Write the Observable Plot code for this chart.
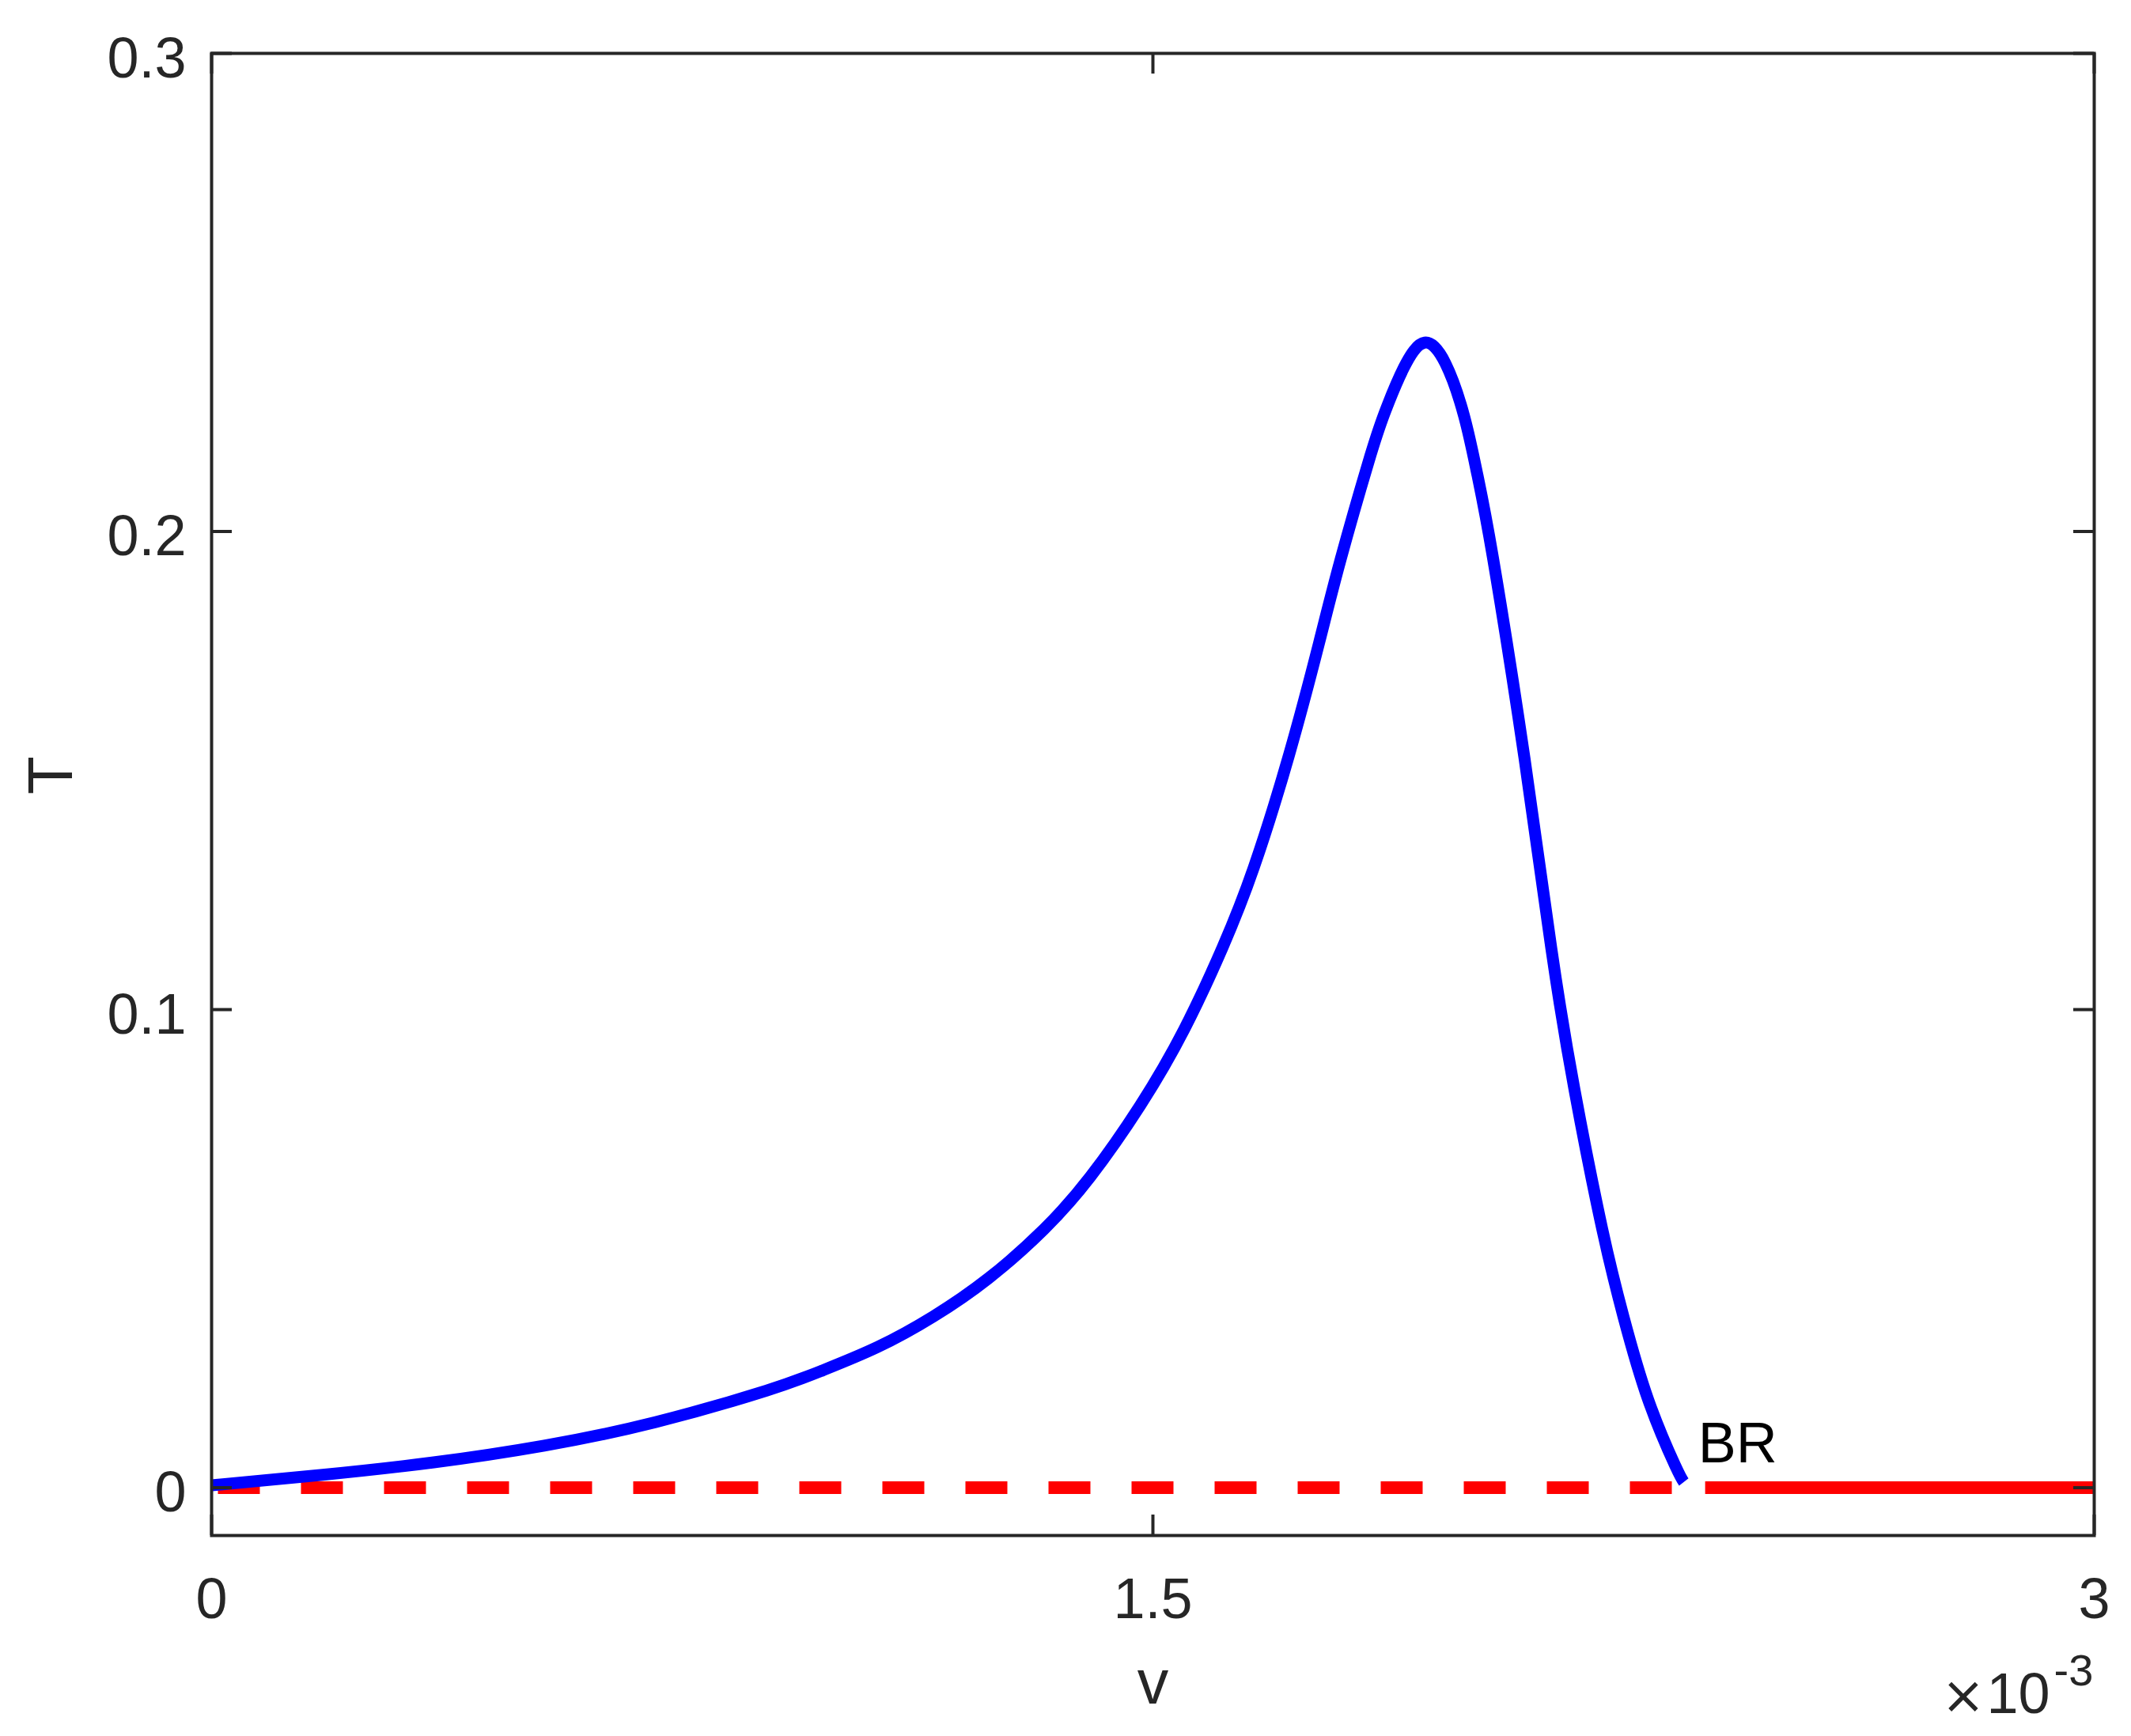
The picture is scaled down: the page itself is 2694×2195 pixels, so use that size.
<!DOCTYPE html>
<html>
<head>
<meta charset="utf-8">
<script src="https://cdn.jsdelivr.net/npm/d3@7"></script>
<script src="https://cdn.jsdelivr.net/npm/@observablehq/plot@0.6"></script>
<style>
  html, body { margin: 0; padding: 0; background: #ffffff; }
  #chart svg { display: block; }
</style>
</head>
<body>
<div id="chart"></div>
<script>
// ---- data (v in units of 1e-3) ----
const branchV = [0, 0.177, 0.354, 0.530, 0.707, 0.884, 0.973, 1.061, 1.150, 1.238, 1.326, 1.400, 1.480, 1.550, 1.611, 1.661, 1.717, 1.765, 1.799, 1.843, 1.869, 1.900, 1.933, 1.966, 1.996, 2.017, 2.042, 2.092, 2.135, 2.172, 2.216, 2.250, 2.289, 2.332, 2.346];
const branchT = [0.0005, 0.0027, 0.0053, 0.0088, 0.0137, 0.0203, 0.0245, 0.0294, 0.0358, 0.0438, 0.0540, 0.0650, 0.0800, 0.0959, 0.1130, 0.1298, 0.1533, 0.1768, 0.1941, 0.2143, 0.2247, 0.2343, 0.2395, 0.2352, 0.2241, 0.2119, 0.1944, 0.1527, 0.1127, 0.0831, 0.0541, 0.0357, 0.0185, 0.0047, 0.0012];
const trivialUnstableV = [0, 2.38];
const trivialUnstableT = [0, 0];
const trivialStableV = [2.38, 3];
const trivialStableT = [0, 0];
const brV = 2.38;
const brT = 0;
const brLabel = "BR";
const xTicks = [0, 1.5, 3];
const yTicks = [0, 0.1, 0.2, 0.3];
const xDomain = [0, 3];
const yDomain = [-0.01, 0.3];
const xLabel = "v";
const yLabel = "T";
const xExponentTimes = "×";
const xExponentBase = "10";
const xExponent = "-3";

// ---- layout ----
const W = 2694, H = 2195;
const mL = 267, mR = 47, mT = 67, mB = 254;
const plotW = W - mL - mR, plotH = H - mT - mB;
const ink = "#262626";
const tickLen = 26;

const toRows = (vs, ts) => vs.map((v, i) => ({v, T: ts[i]}));
const branch = toRows(branchV, branchT);
const unstable = toRows(trivialUnstableV, trivialUnstableT);
const stable = toRows(trivialStableV, trivialStableT);

const chart = Plot.plot({
  width: W,
  height: H,
  marginLeft: mL,
  marginRight: mR,
  marginTop: mT,
  marginBottom: mB,
  style: {fontFamily: "'Liberation Sans', Arial, Helvetica, sans-serif", fontSize: "72px", color: ink, background: "#ffffff"},
  x: {domain: xDomain},
  y: {domain: yDomain},
  marks: [
    // trivial branch
    Plot.line(unstable, {x: "v", y: "T", stroke: "#ff0000", strokeWidth: 16, strokeDasharray: "53,52", strokeDashoffset: 97, strokeLinecap: "butt"}),
    Plot.line(stable, {x: "v", y: "T", stroke: "#ff0000", strokeWidth: 16, strokeLinecap: "butt"}),
    // non-trivial branch
    Plot.line(branch, {x: "v", y: "T", stroke: "#0000ff", strokeWidth: 15, curve: "natural", strokeLinecap: "butt", strokeLinejoin: "round"}),
    // BR label
    Plot.text([{v: brV, T: brT, label: brLabel}], {x: "v", y: "T", text: "label", textAnchor: "start", lineAnchor: "bottom", dx: -9, dy: -32, fill: "#000000", fontSize: 72}),
    // box
    Plot.frame({stroke: ink, strokeWidth: 4}),
    // inward ticks (bottom, top, left, right)
    Plot.ruleX(xTicks, {x: d => d, insetTop: plotH - tickLen, stroke: ink, strokeWidth: 4}),
    Plot.ruleX(xTicks, {x: d => d, insetBottom: plotH - tickLen, stroke: ink, strokeWidth: 4}),
    Plot.ruleY(yTicks, {y: d => d, insetRight: plotW - tickLen, stroke: ink, strokeWidth: 4}),
    Plot.ruleY(yTicks, {y: d => d, insetLeft: plotW - tickLen, stroke: ink, strokeWidth: 4}),
    // tick labels
    Plot.axisX(xTicks, {anchor: "bottom", tickSize: 0, tickPadding: 53, label: null, fontSize: 72, tickFormat: d => String(d)}),
    Plot.axisY(yTicks, {anchor: "left", tickSize: 0, tickPadding: 32, dy: 7, label: null, fontSize: 72, tickFormat: d => String(d)}),
    // axis labels
    Plot.text([xLabel], {frameAnchor: "bottom", lineAnchor: "bottom", dy: 212, fontSize: 79, fill: ink}),
    Plot.text([yLabel], {frameAnchor: "left", lineAnchor: "bottom", rotate: -90, dx: -177, fontSize: 79, fill: ink}),
    // exponent
    Plot.text([xExponentTimes], {frameAnchor: "bottom-right", textAnchor: "end", lineAnchor: "bottom", dx: -138, dy: 224, fontSize: 66, fill: ink, fontFamily: "'DejaVu Sans', 'Liberation Sans', sans-serif"}),
    Plot.text([xExponentBase], {frameAnchor: "bottom-right", textAnchor: "end", lineAnchor: "bottom", dx: -56, dy: 224, fontSize: 72, fill: ink}),
    Plot.text([xExponent], {frameAnchor: "bottom-right", textAnchor: "start", lineAnchor: "bottom", dx: -51, dy: 189, fontSize: 56, fill: ink})
  ]
});
document.getElementById("chart").appendChild(chart);
</script>
</body>
</html>
